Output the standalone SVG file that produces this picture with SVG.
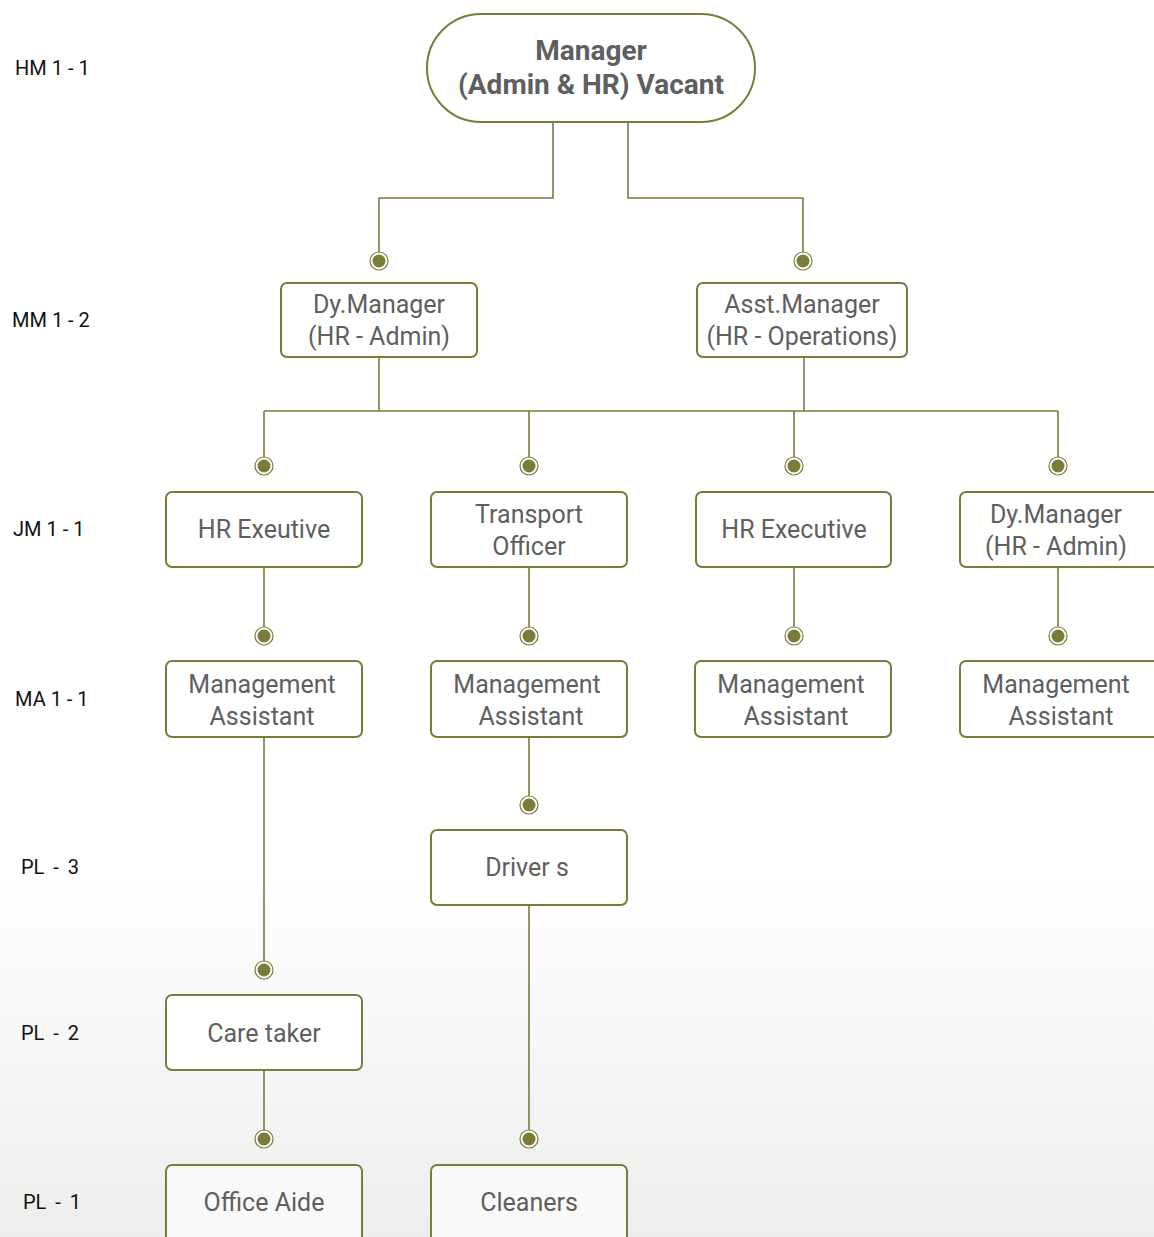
<svg xmlns="http://www.w3.org/2000/svg" width="1154" height="1237" viewBox="0 0 1154 1237">
<defs>
<linearGradient id="bg" x1="0" y1="0" x2="0" y2="1">
<stop offset="0" stop-color="#ffffff"/>
<stop offset="0.7" stop-color="#ffffff"/>
<stop offset="1" stop-color="#eceeec"/>
</linearGradient>
<g id="dot"><circle r="9" fill="#ffffff" stroke="#7b7b3a" stroke-width="1.2"/><circle r="6.5" fill="#7b7b3a"/></g>
</defs>
<style>
.box{fill:#ffffff;stroke:#7b7b3a;stroke-width:2}
.ln{fill:none;stroke:#7b7b3a;stroke-width:1.6}
.t{font-family:Roboto,"Liberation Sans",sans-serif;font-size:25px;fill:#5e6060;text-anchor:middle}
.tb{font-family:Roboto,"Liberation Sans",sans-serif;font-size:28px;font-weight:bold;fill:#5e6060;text-anchor:middle}
.lv{font-family:Roboto,"Liberation Sans",sans-serif;font-size:20px;fill:#111111}
.pl{word-spacing:4px}
</style>
<rect width="1154" height="1237" fill="url(#bg)"/>
<g id="levels">
<text class="lv" x="15" y="75">HM 1 - 1</text>
<text class="lv" x="12" y="327">MM 1 - 2</text>
<text class="lv" x="13" y="536">JM 1 - 1</text>
<text class="lv" x="15" y="706">MA 1 - 1</text>
<text class="lv pl" x="21" y="874">PL - 3</text>
<text class="lv pl" x="21" y="1040">PL - 2</text>
<text class="lv pl" x="23" y="1209">PL - 1</text>
</g>
<g id="connectors">
<path class="ln" d="M553 122V198H379V261"/>
<path class="ln" d="M628 122V198H803V261"/>
<path class="ln" d="M379 357V411"/>
<path class="ln" d="M804 357V411"/>
<path class="ln" d="M264 411H1058"/>
<path class="ln" d="M264 411V466M529 411V466M794 411V466M1058 411V466"/>
<path class="ln" d="M264 567V636M529 567V636M794 567V636M1058 567V636"/>
<path class="ln" d="M264 737V970M529 737V805"/>
<path class="ln" d="M264 1070V1139M529 905V1139"/>
<use href="#dot" x="379" y="261"/><use href="#dot" x="803" y="261"/>
<use href="#dot" x="264" y="466"/><use href="#dot" x="529" y="466"/><use href="#dot" x="794" y="466"/><use href="#dot" x="1058" y="466"/>
<use href="#dot" x="264" y="636"/><use href="#dot" x="529" y="636"/><use href="#dot" x="794" y="636"/><use href="#dot" x="1058" y="636"/>
<use href="#dot" x="529" y="805"/><use href="#dot" x="264" y="970"/>
<use href="#dot" x="264" y="1139"/><use href="#dot" x="529" y="1139"/>
</g>
<g id="n-manager"><rect x="427" y="14" width="328" height="108" rx="54" fill="#ffffff" stroke="#7b7b3a" stroke-width="2"/><text class="tb" x="591" y="60">Manager</text><text class="tb" x="591" y="94">(Admin &amp; HR) Vacant</text></g>
<g id="n-dym1"><rect class="box" x="281" y="283" width="196" height="74" rx="6"/><text class="t" x="379" y="313">Dy.Manager</text><text class="t" x="379" y="345">(HR - Admin)</text></g>
<g id="n-asstm"><rect class="box" x="697" y="283" width="210" height="74" rx="6"/><text class="t" x="802" y="313">Asst.Manager</text><text class="t" x="802" y="345">(HR - Operations)</text></g>
<g id="n-hrex1"><rect class="box" x="166" y="492" width="196" height="75" rx="6"/><text class="t" x="264" y="538">HR Exeutive</text></g>
<g id="n-transport"><rect class="box" x="431" y="492" width="196" height="75" rx="6"/><text class="t" x="529" y="523">Transport</text><text class="t" x="529" y="555">Officer</text></g>
<g id="n-hrex2"><rect class="box" x="696" y="492" width="195" height="75" rx="6"/><text class="t" x="794" y="538">HR Executive</text></g>
<g id="n-dym2"><rect class="box" x="960" y="492" width="200" height="75" rx="6"/><text class="t" x="1056" y="523">Dy.Manager</text><text class="t" x="1056" y="555">(HR - Admin)</text></g>
<g id="n-ma1"><rect class="box" x="166" y="661" width="196" height="76" rx="6"/><text class="t" x="262" y="693">Management</text><text class="t" x="262" y="725">Assistant</text></g>
<g id="n-ma2"><rect class="box" x="431" y="661" width="196" height="76" rx="6"/><text class="t" x="527" y="693">Management</text><text class="t" x="531" y="725">Assistant</text></g>
<g id="n-ma3"><rect class="box" x="695" y="661" width="196" height="76" rx="6"/><text class="t" x="791" y="693">Management</text><text class="t" x="796" y="725">Assistant</text></g>
<g id="n-ma4"><rect class="box" x="960" y="661" width="200" height="76" rx="6"/><text class="t" x="1056" y="693">Management</text><text class="t" x="1061" y="725">Assistant</text></g>
<g id="n-drivers"><rect class="box" x="431" y="830" width="196" height="75" rx="6"/><text class="t" x="527" y="876">Driver s</text></g>
<g id="n-caretaker"><rect class="box" x="166" y="995" width="196" height="75" rx="6"/><text class="t" x="264" y="1042">Care taker</text></g>
<g id="n-officeaide"><rect class="box" x="166" y="1165" width="196" height="80" rx="6" fill-opacity="0.6"/><text class="t" x="264" y="1211">Office Aide</text></g>
<g id="n-cleaners"><rect class="box" x="431" y="1165" width="196" height="80" rx="6" fill-opacity="0.6"/><text class="t" x="529" y="1211">Cleaners</text></g>
</svg>
